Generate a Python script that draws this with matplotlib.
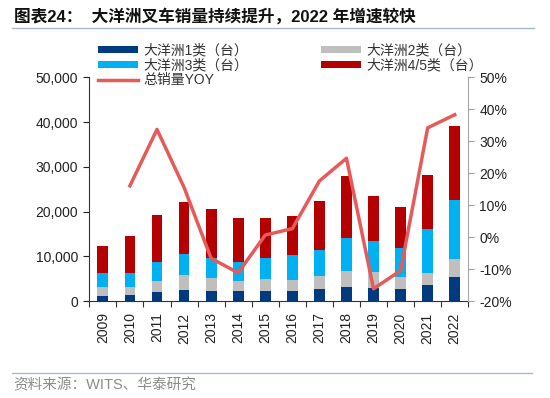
import matplotlib
matplotlib.use('Agg')
import matplotlib.pyplot as plt
from matplotlib.ticker import FuncFormatter, MultipleLocator
from matplotlib.lines import Line2D
import numpy as np

plt.rcParams['font.family'] = ['Liberation Sans', 'Noto Sans CJK SC']
plt.rcParams['axes.unicode_minus'] = False

YEARS = ['2009', '2010', '2011', '2012', '2013', '2014', '2015',
         '2016', '2017', '2018', '2019', '2020', '2021', '2022']
CLASS_1 = [1250, 1400, 2000, 2450, 2290, 2230, 2230, 2360, 2670, 3120, 3030, 2810, 3630, 5480]
CLASS_2 = [1870, 1790, 2590, 3340, 2830, 2290, 2740, 2380, 2900, 3630, 3430, 2540, 2740, 4010]
CLASS_3 = [3120, 3180, 4160, 4810, 4590, 4170, 4740, 5500, 5920, 7420, 6970, 6450, 9730, 13230]
CLASS_45 = [6140, 8110, 10540, 11580, 11000, 9800, 8840, 8830, 10850, 13740, 10020, 9200, 12190, 16480]
YOY = [None, 16.1, 33.7, 15.6, -6.6, -11.1, 0.7, 2.7, 17.6, 24.7, -16.1, -10.4, 34.2, 38.3]

NAMES = ['大洋洲1类（台）', '大洋洲2类（台）', '大洋洲3类（台）', '大洋洲4/5类（台）']
COLORS = ['#003A7F', '#BFBFBF', '#00B0F0', '#B40000']
LINE_COLOR = '#E65A5A'


def main():
    fig = plt.figure(figsize=(5.5, 3.98), dpi=100)
    ax = fig.add_axes([0.1624, 0.243, 0.689, 0.5628])

    x = np.arange(len(YEARS))
    bottom = np.zeros(len(YEARS))
    bars = []
    for vals, color, name in zip([CLASS_1, CLASS_2, CLASS_3, CLASS_45], COLORS, NAMES):
        b = ax.bar(x, vals, width=0.4, bottom=bottom, color=color, label=name, zorder=2)
        bars.append(b)
        bottom += np.array(vals)

    ax.set_xlim(-0.5, len(YEARS) - 0.5)
    ax.set_ylim(0, 50000)
    ax.yaxis.set_major_locator(MultipleLocator(10000))
    ax.yaxis.set_major_formatter(FuncFormatter(lambda v, p: '{:,.0f}'.format(v)))
    ax.set_xticks(x)
    ax.set_xticklabels(YEARS, rotation=90)
    ax.set_xticks(np.arange(-0.5, len(YEARS)), minor=True)
    ax.tick_params(axis='x', which='major', length=0, pad=8, labelsize=10, colors='#222222')
    ax.tick_params(axis='x', which='minor', length=4, width=0.8, color='#333333')
    ax.tick_params(axis='y', length=4, width=0.8, labelsize=10, colors='#222222', pad=4)
    ax.spines['top'].set_visible(False)
    ax.spines['right'].set_visible(False)
    ax.spines['left'].set_color('#333333')
    ax.spines['bottom'].set_color('#333333')

    ax2 = ax.twinx()
    yoy_x = [i for i, v in enumerate(YOY) if v is not None]
    yoy_y = [v / 100 for v in YOY if v is not None]
    line, = ax2.plot(yoy_x, yoy_y, color=LINE_COLOR, lw=2.5, zorder=3, label='总销量YOY')
    ax2.set_ylim(-0.2, 0.5)
    ax2.yaxis.set_major_locator(MultipleLocator(0.1))
    ax2.yaxis.set_major_formatter(FuncFormatter(lambda v, p: '{:.0f}%'.format(v * 100)))
    ax2.tick_params(axis='y', length=4, width=0.8, color='#A0A0A0', labelsize=10,
                    labelcolor='#222222', pad=4)
    ax2.spines['top'].set_visible(False)
    ax2.spines['left'].set_visible(False)
    ax2.spines['bottom'].set_visible(False)
    ax2.spines['right'].set_color('#A6A6A6')

    # legend: column 1 = 1类 / 3类 / YOY, column 2 = 2类 / 4/5类
    handles = [bars[0], bars[2], line, bars[1], bars[3]]
    labels = [NAMES[0], NAMES[2], '总销量YOY', NAMES[1], NAMES[3]]
    fig.legend(handles, labels, ncol=2, loc='upper left', bbox_to_anchor=(0.178, 0.89),
               frameon=False, fontsize=10, handlelength=2.9, handleheight=0.4,
               handletextpad=0.4, labelspacing=0.05, columnspacing=5.2, borderpad=0,
               borderaxespad=0, labelcolor='#333333')

    fig.text(0.025, 0.96, '图表24：  大洋洲叉车销量持续提升，2022 年增速较快', fontsize=12,
             fontweight='bold', va='center', ha='left', color='#111111')
    fig.add_artist(Line2D([0.022, 0.97], [0.929, 0.929], color='#A9B8CE', lw=1))
    fig.add_artist(Line2D([0.022, 0.967], [0.064, 0.064], color='#A9B8CE', lw=1))
    fig.text(0.024, 0.033, '资料来源：WITS、华泰研究', fontsize=10.5, color='#8C8C8C',
             va='center', ha='left')

    fig.savefig('out.png', dpi=100)


if __name__ == '__main__':
    main()
